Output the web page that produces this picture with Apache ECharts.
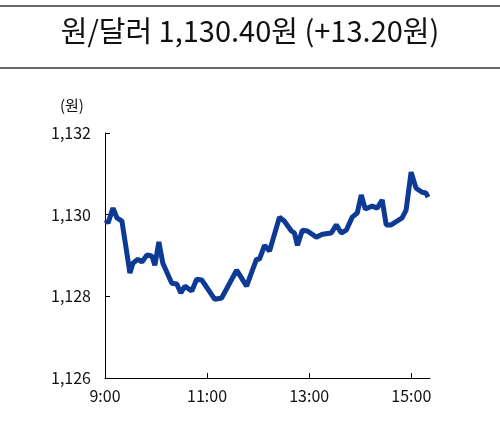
<!DOCTYPE html><html><head><meta charset="utf-8"><script src="https://cdn.jsdelivr.net/npm/echarts@6/dist/echarts.min.js"></script></head><body style="margin:0"><div id="c" style="width:500px;height:444px"></div><script>
const minutes=[1.2,3.5,9.4,14.1,19.9,29.3,32.8,38.7,43.4,49.2,55.1,58.6,63.3,68,78.5,84.4,89.1,93.8,102,107.8,113.7,128.9,137.1,154.7,157,166.4,178.1,181.6,187.5,193.4,205.1,210.9,219.1,222.7,226.2,232,237.9,248.4,255.5,266,271.9,277.7,283.6,290.6,296.5,301.2,305.9,314.1,319.9,325.8,330.5,336.3,349.2,353.9,359.8,365.6,372.7,377.3,379.7];
const values=[1129.87,1129.79,1130.16,1129.92,1129.84,1128.57,1128.81,1128.91,1128.84,1129.01,1128.99,1128.76,1129.33,1128.81,1128.32,1128.3,1128.08,1128.25,1128.13,1128.42,1128.4,1127.93,1127.96,1128.64,1128.67,1128.25,1128.91,1128.91,1129.25,1129.11,1129.94,1129.84,1129.6,1129.55,1129.25,1129.62,1129.6,1129.45,1129.52,1129.55,1129.75,1129.55,1129.62,1129.94,1130.04,1130.48,1130.14,1130.21,1130.16,1130.36,1129.75,1129.75,1129.92,1130.11,1131.04,1130.65,1130.55,1130.53,1130.43];
const xTickLabels={0:'9:00',120:'11:00',240:'13:00',360:'15:00'};
const titleText='원/달러 1,130.40원 (+13.20원)';
const f='"Noto Sans CJK KR","Liberation Sans",sans-serif';
const ch=echarts.init(document.getElementById('c'));
ch.setOption({
 animation:false,
 graphic:[
  {type:'line',shape:{x1:0,y1:6,x2:500,y2:6},style:{stroke:'#333',lineWidth:1.5}},
  {type:'line',shape:{x1:0,y1:68,x2:500,y2:68},style:{stroke:'#333',lineWidth:1.5}},
  {type:'text',left:'center',top:16,style:{text:titleText,font:'29px '+f,fill:'#111'}},
  {type:'text',left:60,top:98,style:{text:'(원)',font:'15px '+f,fill:'#111'}}
 ],
 grid:{left:105,right:70,top:133,bottom:66},
 xAxis:{type:'value',min:0,max:382,interval:120,
  axisLine:{lineStyle:{color:'#000'}},axisTick:{inside:true,length:5,lineStyle:{color:'#000'}},
  splitLine:{show:false},
  axisLabel:{formatter:v=>xTickLabels[v]||'',fontSize:16,color:'#111',fontFamily:f,margin:10,showMaxLabel:false}},
 yAxis:{type:'value',min:1126,max:1132,interval:2,
  axisLine:{show:true,lineStyle:{color:'#000'}},axisTick:{show:true,inside:true,length:5,lineStyle:{color:'#000'}},
  splitLine:{show:false},
  axisLabel:{formatter:v=>v.toLocaleString('en-US'),fontSize:16,color:'#111',fontFamily:f,margin:14}},
 series:[{type:'line',data:minutes.map((m,i)=>[m,values[i]]),showSymbol:false,
  lineStyle:{color:'#0d3a94',width:5},itemStyle:{color:'#0d3a94'}}]
});
</script></body></html>
